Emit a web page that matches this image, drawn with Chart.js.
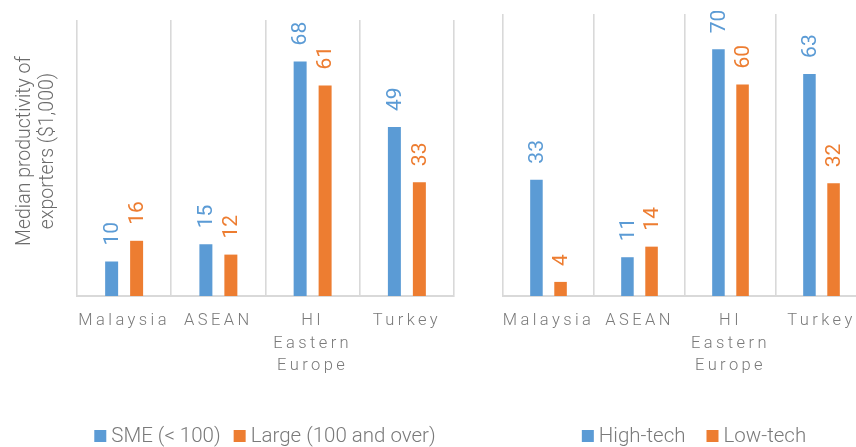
<!DOCTYPE html>
<html>
<head>
<meta charset="utf-8">
<script src="https://cdn.jsdelivr.net/npm/chart.js@4.4.1/dist/chart.umd.min.js"></script>
<style>
  html, body { margin: 0; padding: 0; background: #fff; }
  #wrap { position: relative; width: 856px; height: 447px; overflow: hidden; }
  #c1 { position: absolute; left: 0; top: 0; }
  #c2 { position: absolute; left: 452px; top: 0; }
</style>
</head>
<body>
<div id="wrap">
  <canvas id="c1" width="470" height="447" style="width:470px;height:447px"></canvas>
  <canvas id="c2" width="420" height="447" style="width:420px;height:447px"></canvas>
</div>
<script>
// ---- data ----
const categories = ['Malaysia', 'ASEAN', ['HI', 'Eastern', 'Europe'], 'Turkey'];
const sizeSeriesNames = ['SME (< 100)', 'Large (100 and over)'];
const smeValues = [10, 15, 68, 49];
const largeValues = [16, 12, 61, 33];
const techSeriesNames = ['High-tech', 'Low-tech'];
const highTechValues = [33, 11, 70, 63];
const lowTechValues = [4, 14, 60, 32];
const yAxisTitle = ['Median productivity of', 'exporters ($1,000)'];
const yMax = 80;

// ---- styles ----
const BLUE = '#5B9BD5';
const ORANGE = '#ED7D31';
const GRID = '#D9D9D9';
const FONT = 'Roboto, "Open Sans", "Liberation Sans", sans-serif';

const customPlugin = {
  id: 'custom',
  beforeDraw(chart) {
    chart.ctx.letterSpacing = '3.4px';
  },
  afterDatasetsDraw(chart) {
    const ctx = chart.ctx;
    ctx.save();
    ctx.letterSpacing = '0px';
    ctx.font = '400 21px ' + FONT;
    ctx.textBaseline = 'middle';
    ctx.textAlign = 'left';
    chart.data.datasets.forEach((ds, di) => {
      const meta = chart.getDatasetMeta(di);
      meta.data.forEach((bar, i) => {
        ctx.save();
        ctx.fillStyle = ds.backgroundColor;
        ctx.translate(bar.x, bar.y - 16);
        ctx.rotate(-Math.PI / 2);
        ctx.fillText(String(ds.data[i]), 0, 1);
        ctx.restore();
      });
    });
    ctx.restore();
  },
  afterDraw(chart) {
    const ctx = chart.ctx;
    const o = chart.options.plugins.custom;
    ctx.save();
    ctx.letterSpacing = '0px';
    // y-axis title
    if (o.yTitle) {
      ctx.fillStyle = '#6b6b6b';
      ctx.font = '300 19.5px ' + FONT;
      ctx.textAlign = 'center';
      ctx.textBaseline = 'middle';
      const cy = (chart.chartArea.top + chart.chartArea.bottom) / 2 - 7;
      o.yTitle.forEach((line, k) => {
        ctx.save();
        ctx.translate(o.yTitleX + k * 23, cy);
        ctx.rotate(-Math.PI / 2);
        ctx.fillText(line, 0, 0);
        ctx.restore();
      });
    }
    // legend
    ctx.font = '300 20.5px ' + FONT;
    ctx.textBaseline = 'alphabetic';
    ctx.textAlign = 'left';
    const items = chart.data.datasets.map(ds => ({ label: ds.label, color: ds.backgroundColor, w: ctx.measureText(ds.label).width }));
    const box = 12, boxGap = 5, gap = o.legendGap;
    let total = 0;
    items.forEach((it, k) => { total += box + boxGap + it.w + (k ? gap : 0); });
    let x = o.legendCenter - total / 2;
    const y = o.legendY;
    items.forEach((it) => {
      ctx.fillStyle = it.color;
      ctx.fillRect(x, y - 12, box, box);
      x += box + boxGap;
      ctx.fillStyle = '#7a7a7a';
      ctx.fillText(it.label, x, y);
      x += it.w + gap;
    });
    ctx.restore();
  }
};

function makeChart(id, names, v1, v2, pad, opts) {
  return new Chart(document.getElementById(id), {
    type: 'bar',
    data: {
      labels: categories,
      datasets: [
        { label: names[0], data: v1, backgroundColor: BLUE, categoryPercentage: 0.53, barPercentage: 0.52 },
        { label: names[1], data: v2, backgroundColor: ORANGE, categoryPercentage: 0.53, barPercentage: 0.52 }
      ]
    },
    options: {
      responsive: false,
      animation: false,
      events: [],
      layout: { padding: pad },
      plugins: {
        legend: { display: false },
        tooltip: { enabled: false },
        custom: opts
      },
      scales: {
        x: {
          offset: true,
          grid: { offset: true, color: GRID, lineWidth: 1.6, drawTicks: false },
          border: { color: GRID, width: 2 },
          ticks: {
            color: '#7a7a7a',
            font: { family: FONT, size: 16.5, weight: '300', lineHeight: '22.5px' },
            padding: 14,
            maxRotation: 0,
            autoSkip: false
          },
          afterFit(s) { s.height = 151 - pad.bottom; }
        },
        y: {
          display: false,
          min: 0,
          max: yMax
        }
      }
    },
    plugins: [customPlugin]
  });
}

makeChart('c1', sizeSeriesNames, smeValues, largeValues,
  { left: 77, right: 16, top: 20, bottom: 0 },
  { yTitle: yAxisTitle, yTitleX: 25, legendCenter: 265, legendGap: 13, legendY: 442 });

makeChart('c2', techSeriesNames, highTechValues, lowTechValues,
  { left: 51, right: 5, top: 14, bottom: 0 },
  { yTitle: null, legendCenter: 242, legendGap: 21, legendY: 442 });
</script>
</body>
</html>
